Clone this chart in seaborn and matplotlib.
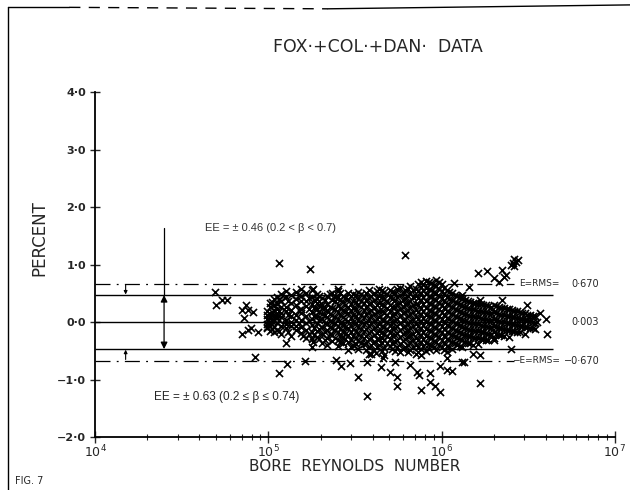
import numpy as np
import pandas as pd
import seaborn as sns
import matplotlib.pyplot as plt
from matplotlib.lines import Line2D
from matplotlib.ticker import FixedLocator, FixedFormatter, LogLocator, NullFormatter

# error bands
rms_band = 0.67
ee_band = 0.47
mean_err = 0.003

# scattered points (log10 Re, percent)
log_re_out = [4.69, 4.70, 4.73, 4.76, 4.85, 4.86, 4.87, 4.88, 4.91, 4.85, 4.88, 4.90, 4.94, 4.92,
              5.06, 5.11, 5.10, 5.06, 5.06, 5.24, 5.26, 5.40, 5.20, 5.26, 5.25, 5.21, 5.39, 5.42,
              5.47, 5.57, 5.52, 5.57, 5.46, 5.59, 5.79, 6.07, 5.66, 5.65, 5.70, 5.74, 5.73, 5.74,
              5.82, 5.86, 5.87, 5.88, 5.93, 5.93, 5.96, 5.99, 5.99, 6.03, 6.06, 6.03, 5.88, 6.12,
              5.62, 6.41, 6.42, 6.43, 6.40, 6.44, 6.42, 6.35, 6.21, 6.26, 6.30, 6.33, 6.37, 6.36,
              6.16, 6.12, 6.35, 6.22, 6.49, 6.57, 6.60, 6.61, 6.55, 6.40, 6.22, 6.18, 6.13, 6.22,
              6.30, 5.00, 4.99]
pct_out = [0.53, 0.30, 0.38, 0.38, 0.21, 0.07, 0.30, 0.21, 0.18, -0.20, -0.13, -0.11, -0.17, -0.60,
           -0.89, -0.73, -0.37, 0.41, 1.03, 0.92, 0.57, 0.57, -0.25, -0.34, -0.43, -0.67, -0.66, -0.77,
           -0.72, -0.69, -0.95, -1.29, -0.49, -0.55, 1.17, 0.68, -0.63, -0.78, -0.86, -0.95, -0.69, -1.12,
           -0.75, -0.86, -0.92, -1.18, -0.89, -1.04, -1.12, -1.21, -0.77, -0.83, -0.85, -0.63, -0.57, -0.69,
           -0.54, 1.02, 1.09, 1.05, 1.00, 1.08, 0.97, 0.90, 0.86, 0.88, 0.76, 0.70, 0.82, 0.78,
           0.61, 0.47, 0.38, 0.38, 0.30, 0.15, 0.05, -0.20, 0.01, -0.46, -0.57, -0.55, -0.69, -1.06,
           -0.31, 0.03, -0.08]

# dense core, column by column (log10 Re -> percent values)
core_cols = {
    4.99: [0.13, -0.03, 0.06, -0.11, 0.19],
    5.01: [0.26, 0.09, -0.06, 0.14, -0.16, 0.01, 0.33],
    5.03: [0.41, 0.21, 0.11, -0.09, 0.03, -0.18, 0.29],
    5.05: [0.44, 0.31, 0.13, -0.01, -0.13, 0.23, 0.07],
    5.07: [0.49, 0.36, 0.16, -0.06, 0.26, -0.21, 0.09],
    5.10: [0.43, 0.27, 0.04, -0.11, 0.19, 0.54, -0.03],
    5.13: [0.47, 0.33, 0.21, 0.11, -0.07, 0.01, -0.24],
    5.16: [0.52, 0.41, 0.29, 0.13, 0.03, -0.14, -0.06],
    5.19: [0.45, 0.23, 0.36, 0.04, -0.09, -0.19, 0.16, 0.58],
    5.22: [0.50, 0.37, 0.28, -0.01, -0.13, 0.10, -0.27],
    5.25: [0.44, 0.31, 0.17, 0.06, -0.05, -0.17, -0.30, 0.55],
    5.28: [0.48, 0.34, 0.23, 0.10, -0.02, -0.16, -0.26, 0.40],
    5.31: [0.42, 0.29, 0.14, 0.05, -0.08, -0.21, -0.36, 0.25],
    5.34: [0.46, 0.32, 0.19, 0.08, -0.04, -0.13, -0.28, -0.39],
    5.37: [0.51, 0.38, 0.24, 0.12, 0.00, -0.10, -0.23, -0.33],
    5.40: [0.54, 0.43, 0.30, 0.17, 0.05, -0.07, -0.18, -0.31, -0.42],
    5.43: [0.46, 0.35, 0.21, 0.08, -0.04, -0.16, -0.26, -0.37],
    5.46: [0.40, 0.27, 0.15, 0.02, -0.11, -0.22, -0.34, 0.50],
    5.49: [0.48, 0.36, 0.24, 0.13, 0.00, -0.12, -0.25, -0.40],
    5.52: [0.52, 0.40, 0.29, 0.16, 0.04, -0.09, -0.20, -0.33, -0.46],
    5.55: [0.45, 0.33, 0.21, 0.09, -0.03, -0.15, -0.27, -0.38],
    5.58: [0.55, 0.42, 0.31, 0.18, 0.06, -0.06, -0.19, -0.30, -0.43, -0.55],
    5.61: [0.50, 0.38, 0.25, 0.14, 0.02, -0.11, -0.22, -0.34, -0.48],
    5.64: [0.58, 0.45, 0.33, 0.20, 0.08, -0.04, -0.16, -0.29, -0.40],
    5.67: [0.52, 0.40, 0.28, 0.15, 0.04, -0.08, -0.21, -0.32, -0.45, -0.57],
    5.70: [0.55, 0.43, 0.30, 0.19, 0.07, -0.05, -0.17, -0.29, -0.41],
    5.73: [0.50, 0.38, 0.27, 0.14, 0.02, -0.10, -0.23, -0.34, -0.50],
    5.76: [0.60, 0.47, 0.34, 0.22, 0.10, -0.02, -0.14, -0.26, -0.38, -0.52],
    5.79: [0.55, 0.42, 0.31, 0.18, 0.06, -0.07, -0.18, -0.30, -0.44],
    5.82: [0.62, 0.50, 0.37, 0.26, 0.14, 0.02, -0.10, -0.22, -0.35, -0.48],
    5.85: [0.58, 0.45, 0.32, 0.21, 0.08, -0.04, -0.16, -0.28, -0.40, -0.55],
    5.88: [0.70, 0.61, 0.50, 0.38, 0.25, 0.14, 0.02, -0.10, -0.22, -0.34, -0.46],
    5.91: [0.72, 0.60, 0.48, 0.36, 0.24, 0.12, 0.00, -0.12, -0.25, -0.36, -0.50],
    5.94: [0.68, 0.56, 0.44, 0.31, 0.20, 0.08, -0.04, -0.16, -0.28, -0.40],
    5.97: [0.74, 0.62, 0.50, 0.38, 0.27, 0.14, 0.02, -0.10, -0.22, -0.34, -0.48],
    6.00: [0.66, 0.54, 0.42, 0.30, 0.18, 0.06, -0.06, -0.18, -0.31, -0.44],
    6.03: [0.55, 0.43, 0.31, 0.19, 0.07, -0.05, -0.17, -0.29, -0.41, -0.52],
    6.06: [0.50, 0.38, 0.26, 0.14, 0.02, -0.10, -0.22, -0.34, -0.46],
    6.09: [0.45, 0.33, 0.21, 0.09, -0.03, -0.15, -0.27, -0.39],
    6.12: [0.40, 0.28, 0.16, 0.04, -0.08, -0.20, -0.32, -0.44],
    6.15: [0.36, 0.24, 0.12, 0.00, -0.12, -0.24, -0.36],
    6.18: [0.34, 0.22, 0.10, -0.02, -0.14, -0.26, -0.40],
    6.21: [0.32, 0.20, 0.08, -0.04, -0.16, -0.28, -0.38],
    6.24: [0.30, 0.18, 0.06, -0.06, -0.18, -0.30],
    6.27: [0.28, 0.16, 0.04, -0.08, -0.20, -0.32],
    6.30: [0.30, 0.18, 0.06, -0.06, -0.18, -0.28],
    6.33: [0.26, 0.14, 0.02, -0.10, -0.22],
    6.36: [0.24, 0.12, 0.00, -0.12, -0.24],
    6.39: [0.22, 0.10, -0.02, -0.14, -0.26],
    6.42: [0.20, 0.08, -0.04, -0.16],
    6.45: [0.18, 0.06, -0.06, -0.18],
    6.48: [0.15, 0.04, -0.08, -0.20],
    6.51: [0.12, 0.02, -0.10],
    6.54: [0.10, -0.02, -0.12],
}

# in-between points that fill the dark mass
core_fill = {
    5.02: [0.35, 0.17, -0.12, 0.02],
    5.06: [0.38, 0.20, -0.15, 0.04],
    5.115: [0.37, 0.12, -0.18],
    5.175: [0.47, 0.21, -0.02],
    5.235: [0.42, 0.22, -0.20, 0.02],
    5.265: [0.38, 0.25, 0.11, -0.10, -0.22],
    5.295: [0.45, 0.30, 0.17, 0.03, -0.12, -0.30],
    5.325: [0.39, 0.25, 0.12, -0.02, -0.17, -0.32],
    5.355: [0.49, 0.27, 0.14, 0.02, -0.08, -0.20],
    5.385: [0.44, 0.36, 0.22, 0.09, -0.02, -0.14, -0.27],
    5.415: [0.50, 0.39, 0.25, 0.12, -0.01, -0.12, -0.24, -0.35],
    5.445: [0.42, 0.30, 0.18, 0.05, -0.09, -0.20, -0.30],
    5.475: [0.45, 0.31, 0.19, 0.07, -0.06, -0.18, -0.31, -0.44],
    5.505: [0.47, 0.35, 0.23, 0.10, -0.02, -0.15, -0.27, -0.38],
    5.535: [0.49, 0.37, 0.26, 0.13, 0.01, -0.12, -0.24, -0.37],
    5.565: [0.50, 0.39, 0.27, 0.14, 0.00, -0.12, -0.24, -0.36, -0.48],
    5.595: [0.46, 0.34, 0.21, 0.10, -0.02, -0.15, -0.27, -0.39],
    5.625: [0.54, 0.42, 0.30, 0.18, 0.05, -0.07, -0.19, -0.30, -0.43],
    5.655: [0.55, 0.43, 0.31, 0.19, 0.06, -0.07, -0.18, -0.27, -0.37, -0.51],
    5.685: [0.49, 0.37, 0.25, 0.12, 0.00, -0.12, -0.25, -0.36],
    5.715: [0.52, 0.40, 0.26, 0.13, 0.01, -0.11, -0.23, -0.36, -0.46],
    5.745: [0.57, 0.44, 0.32, 0.19, 0.06, -0.06, -0.19, -0.31, -0.44],
    5.775: [0.51, 0.39, 0.27, 0.15, 0.03, -0.09, -0.21, -0.33, -0.47],
    5.805: [0.58, 0.46, 0.33, 0.21, 0.10, -0.03, -0.15, -0.26, -0.39, -0.52],
    5.835: [0.55, 0.43, 0.30, 0.17, 0.05, -0.07, -0.20, -0.32, -0.44],
    5.865: [0.66, 0.54, 0.42, 0.29, 0.18, 0.05, -0.07, -0.19, -0.31, -0.43, -0.52],
    5.895: [0.67, 0.55, 0.43, 0.31, 0.19, 0.07, -0.05, -0.17, -0.29, -0.42],
    5.925: [0.70, 0.58, 0.46, 0.34, 0.21, 0.10, -0.02, -0.14, -0.26, -0.38, -0.47],
    5.955: [0.65, 0.53, 0.40, 0.28, 0.16, 0.04, -0.09, -0.21, -0.33, -0.44],
    5.985: [0.70, 0.58, 0.46, 0.34, 0.22, 0.10, -0.02, -0.14, -0.26, -0.39],
    6.015: [0.60, 0.48, 0.36, 0.24, 0.12, 0.00, -0.12, -0.24, -0.36, -0.48],
    6.045: [0.53, 0.41, 0.29, 0.17, 0.05, -0.07, -0.19, -0.31, -0.43],
    6.075: [0.47, 0.35, 0.23, 0.11, -0.01, -0.13, -0.25, -0.37],
    6.105: [0.43, 0.31, 0.19, 0.07, -0.05, -0.17, -0.29, -0.41],
    6.135: [0.38, 0.26, 0.14, 0.02, -0.10, -0.22, -0.34],
    6.165: [0.35, 0.23, 0.11, -0.01, -0.13, -0.25, -0.37],
    6.195: [0.33, 0.21, 0.09, -0.03, -0.15, -0.27],
    6.225: [0.31, 0.19, 0.07, -0.05, -0.17, -0.29],
    6.255: [0.29, 0.17, 0.05, -0.07, -0.19, -0.31],
    6.285: [0.27, 0.15, 0.03, -0.09, -0.21],
    6.315: [0.28, 0.16, 0.04, -0.08, -0.20],
    6.345: [0.25, 0.13, 0.01, -0.11, -0.23],
    6.375: [0.23, 0.11, -0.01, -0.13],
    6.405: [0.21, 0.09, -0.03, -0.15],
    6.435: [0.19, 0.07, -0.05, -0.17],
    6.465: [0.16, 0.05, -0.07],
    6.495: [0.13, 0.03, -0.09],
    6.525: [0.11, 0.00, -0.11],
}

y_ticks = [-2, -1, 0, 1, 2, 3, 4]
y_tick_labels = ['\u22122\u00b70', '\u22121\u00b70', '0\u00b70', '1\u00b70', '2\u00b70', '3\u00b70', '4\u00b70']
x_ticks = [1e4, 1e5, 1e6, 1e7]
x_tick_labels = ['$10^4$', '$10^5$', '$10^6$', '$10^7$']

rows = [(lx, p) for lx, p in zip(log_re_out, pct_out)]
for cols in (core_cols, core_fill):
    for lx, ys in cols.items():
        rows += [(lx, p) for p in ys]
df = pd.DataFrame(rows, columns=['log_re', 'pct'])
df['re'] = 10 ** df['log_re']

sns.set_theme(style='ticks')
plt.rcParams['font.family'] = ['DejaVu Sans']

fig = plt.figure(figsize=(6.3, 4.9), dpi=100)
ax = fig.add_axes([0.151, 0.108, 0.825, 0.704])

sns.scatterplot(data=df, x='re', y='pct', marker='x', color='black', s=26, linewidth=1.2, ax=ax, legend=False)

ax.set_xscale('log')
ax.set_xlim(1e4, 1e7)
ax.set_ylim(-2, 4)

# band lines
ax.hlines([ee_band, 0, -ee_band], 1e4, [4.4e6, 3.4e6, 4.4e6], color='black', linewidth=1.0)
for lvl in (rms_band, -rms_band):
    ax.hlines(lvl, 1e4, 2.6e6, color='black', linewidth=0.9, linestyles=(0, (12, 5, 1.5, 5)))

ax.text(2.8e6, rms_band, 'E=RMS=', fontsize=6.5, va='center', ha='left')
ax.text(5.6e6, rms_band, '0\u00b7670', fontsize=7, va='center', ha='left')
ax.text(5.6e6, mean_err, '0\u00b7003', fontsize=7, va='center', ha='left')
ax.text(2.55e6, -rms_band, '\u2212E=RMS=', fontsize=6.5, va='center', ha='left')
ax.text(5.1e6, -rms_band, '\u22120\u00b7670', fontsize=7, va='center', ha='left')

# arrows for the EE band
ax.plot([2.5e4, 2.5e4], [ee_band, 1.63], color='black', linewidth=0.9)
arr = dict(arrowstyle='-|>', color='black', linewidth=0.9, mutation_scale=10, shrinkA=0, shrinkB=0)
ax.annotate('', xy=(2.5e4, ee_band), xytext=(2.5e4, 0), arrowprops=arr)
ax.annotate('', xy=(2.5e4, -ee_band), xytext=(2.5e4, 0), arrowprops=arr)
small = dict(arrowstyle='-|>', color='black', linewidth=0.8, mutation_scale=5, shrinkA=0, shrinkB=0)
ax.annotate('', xy=(1.5e4, ee_band + 0.01), xytext=(1.5e4, rms_band - 0.02), arrowprops=small)
ax.annotate('', xy=(1.5e4, -ee_band - 0.01), xytext=(1.5e4, -rms_band + 0.02), arrowprops=small)

ax.text(4.3e4, 1.63, 'EE = \u00b1 0.46 (0.2 < \u03b2 < 0.7)', fontsize=8,
        family=['Liberation Sans', 'DejaVu Sans'], va='center', color='#333333')
ax.text(2.2e4, -1.3, 'EE = \u00b1 0.63 (0.2 \u2264 \u03b2 \u2264 0.74)', fontsize=8.5,
        family=['Liberation Sans', 'DejaVu Sans'], va='center')

# axes styling
for side in ('top', 'right'):
    ax.spines[side].set_visible(False)
for side in ('left', 'bottom'):
    ax.spines[side].set_linewidth(1.3)
    ax.spines[side].set_color('black')
ax.yaxis.set_major_locator(FixedLocator(y_ticks))
ax.yaxis.set_major_formatter(FixedFormatter(y_tick_labels))
ax.xaxis.set_major_locator(FixedLocator(x_ticks))
ax.xaxis.set_major_formatter(FixedFormatter(x_tick_labels))
ax.xaxis.set_minor_locator(LogLocator(base=10, subs=np.arange(2, 10)))
ax.xaxis.set_minor_formatter(NullFormatter())
ax.tick_params(axis='y', which='major', direction='inout', length=7, width=1, labelsize=8, pad=3)
ax.tick_params(axis='x', which='major', direction='inout', length=8, width=1, labelsize=9, pad=1)
ax.tick_params(axis='x', which='minor', direction='inout', length=5, width=0.8)
for lab in ax.get_yticklabels():
    lab.set_fontweight('bold')
ax.set_xlabel('')
ax.set_ylabel('')

fig.text(0.60, 0.905, 'FOX\u00b7+COL\u00b7+DAN\u00b7  DATA', ha='center', va='center', fontsize=12.5)
fig.text(0.063, 0.515, 'PERCENT', rotation=90, ha='center', va='center', fontsize=12)
fig.text(0.563, 0.047, 'BORE  REYNOLDS  NUMBER', ha='center', va='center', fontsize=11)
fig.text(0.024, 0.018, 'FIG. 7', ha='left', va='center', fontsize=7)

# page frame of the scan
fig.add_artist(Line2D([0.013, 0.013], [0.0, 0.985], color='black', linewidth=1.0))
fig.add_artist(Line2D([0.013, 0.11], [0.985, 0.985], color='black', linewidth=1.0))
fig.add_artist(Line2D([0.11, 0.52], [0.985, 0.982], color='black', linewidth=1.0, linestyle=(0, (8, 6))))
fig.add_artist(Line2D([0.52, 1.0], [0.982, 0.99], color='black', linewidth=1.0))

fig.savefig('out.png', dpi=100, facecolor='white')
